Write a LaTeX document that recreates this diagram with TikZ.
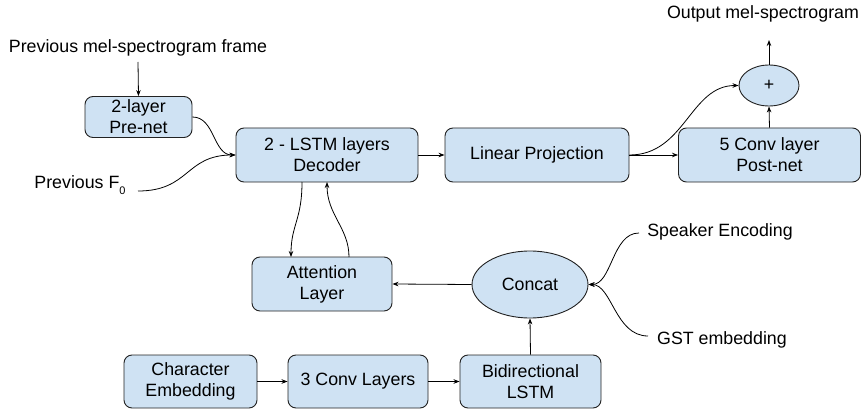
\documentclass[tikz,border=0pt]{standalone}
\usepackage{fontspec}
\setmainfont{Liberation Sans}
\usetikzlibrary{shapes.geometric,arrows.meta}
\definecolor{boxfill}{HTML}{CFE2F3}
\definecolor{boxline}{HTML}{222222}
\begin{document}
\begin{tikzpicture}[x=1pt,y=-1pt,
  every node/.style={font=\fontsize{17.8}{21}\selectfont, align=center, inner sep=0pt},
  blk/.style={draw=boxline, fill=boxfill, line width=0.9pt, rounded corners=8pt},
  ell/.style={draw=boxline, fill=boxfill, line width=0.9pt, ellipse},
  lbl/.style={},
  arr/.style={-{Stealth[length=6pt,width=4.5pt]}, line width=0.8pt, black}]
\useasboundingbox (0,0) rectangle (862,409);
% boxes
\node[blk, minimum width=107pt, minimum height=41pt] (pre) at (138.5,117) {2-layer\\Pre-net};
\node[blk, minimum width=182pt, minimum height=54pt] (dec) at (327,155) {2 - LSTM layers\\Decoder};
\node[blk, minimum width=184pt, minimum height=54pt] (lin) at (537,155) {Linear Projection};
\node[blk, minimum width=182pt, minimum height=54pt] (post) at (769.5,155) {5 Conv layer\\Post-net};
\node[ell, minimum width=60pt, minimum height=41pt] (plus) at (769,85.5) {+};
\node[blk, minimum width=140pt, minimum height=54pt] (att) at (322,284) {Attention\\Layer};
\node[ell, minimum width=116pt, minimum height=67pt] (cat) at (530,284.5) {Concat};
\node[blk, minimum width=133pt, minimum height=53pt] (chr) at (190.5,381.5) {Character\\Embedding};
\node[blk, minimum width=140pt, minimum height=53pt] (conv) at (358,381.5) {3 Conv Layers};
\node[blk, minimum width=141pt, minimum height=53pt] (bil) at (530.5,381.5) {Bidirectional\\LSTM};
% labels
\node[lbl] (pmel) at (138,48) {Previous mel-spectrogram frame};
\node[lbl] (out) at (763,14) {Output mel-spectrogram};
\node[lbl] (pf0) at (80,185) {Previous F\raisebox{-6pt}{\fontsize{11}{11}\selectfont 0}};
\node[lbl] (spk) at (720,232) {Speaker Encoding};
\node[lbl] (gst) at (722,340) {GST embedding};
\coordinate (pmelS) at (138,62);
\coordinate (outE) at (769,40);
\coordinate (pf0E) at (138,191);
\coordinate (spkW) at (639,233);
\coordinate (gstW) at (648,336);
% connectors
\draw[arr] (pmelS) -- (pre.north);
\draw[arr] (pre.east) .. controls (215,117) and (213,155) .. (dec.west);
\draw[arr] (pf0E) .. controls (190,191) and (185,155) .. (dec.west);
\draw[arr] (dec.east) -- (lin.west);
\draw[arr] (lin.east) -- (post.west);
\draw[arr] (lin.east) .. controls (685,155) and (690,85.5) .. (plus.west);
\draw[arr] (post.north) -- (plus.south);
\draw[arr] (plus.north) -- (outE);
\draw[arr] (302,182) .. controls (302,220) and (291,225) .. (291,257);
\draw[arr] (349,257) .. controls (349,228) and (327,215) .. (327,182);
\draw[arr] (cat.west) -- (att.east);
\draw[arr] (bil.north) -- (cat.south);
\draw[arr] (chr.east) -- (conv.west);
\draw[arr] (conv.east) -- (bil.west);
\draw[arr] (spkW) .. controls (612,233) and (612,284.5) .. (cat.east);
\draw[arr] (gstW) .. controls (615,336) and (612,284.5) .. (cat.east);
\end{tikzpicture}
\end{document}
